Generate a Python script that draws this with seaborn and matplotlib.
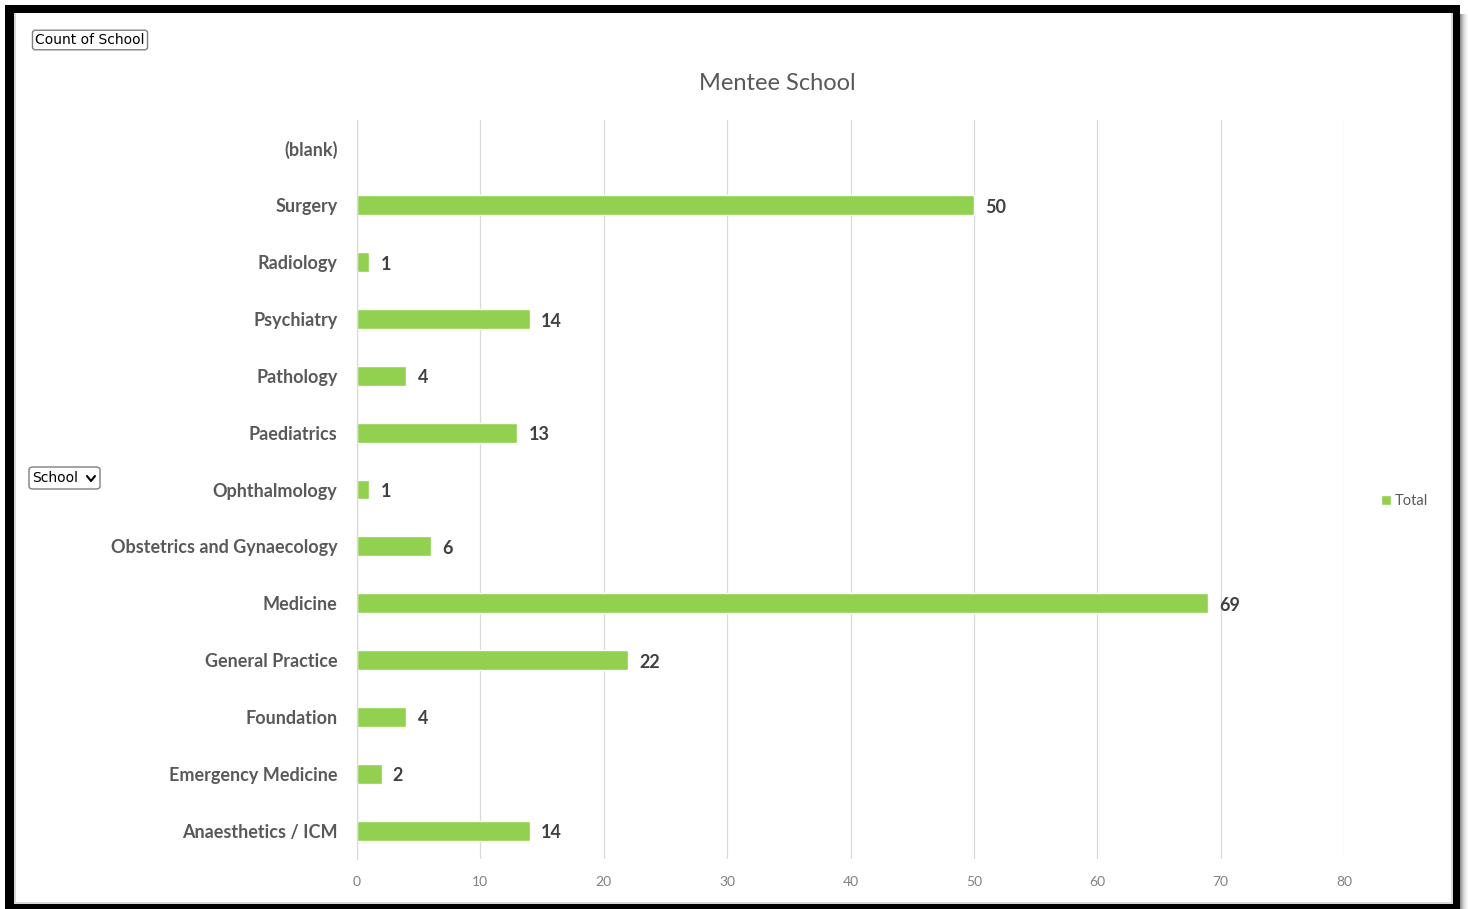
import numpy as np
import pandas as pd
import matplotlib
matplotlib.use("Agg")
import matplotlib.pyplot as plt
from matplotlib.patches import Rectangle, FancyBboxPatch
from matplotlib.lines import Line2D
import seaborn as sns

# Pivot data: count of mentees per school
schools = [
    "(blank)", "Surgery", "Radiology", "Psychiatry", "Pathology",
    "Paediatrics", "Ophthalmology", "Obstetrics and Gynaecology",
    "Medicine", "General Practice", "Foundation", "Emergency Medicine",
    "Anaesthetics / ICM",
]
counts = [np.nan, 50, 1, 14, 4, 13, 1, 6, 69, 22, 4, 2, 14]
x_ticks = [0, 10, 20, 30, 40, 50, 60, 70, 80]
series_name = "Total"
title = "Mentee School"

BAR = "#92D050"
GRID = "#D9D9D9"
LABEL = "#595959"
VALUE = "#404040"
TICK = "#808080"

sns.set_theme(style="white")
plt.rcParams["font.family"] = ["Lato", "DejaVu Sans"]

W, H = 1468, 909
fig = plt.figure(figsize=(W / 100, H / 100), dpi=100)
fig.patch.set_facecolor("white")

def fx(px):
    return px / W

def fy(py):
    return 1 - py / H

ax = fig.add_axes([fx(357), fy(859), fx(1344) - fx(357), fy(120) - fy(859)])

df = pd.DataFrame({"School": schools, "Count": counts})
sns.barplot(data=df, x="Count", y="School", order=schools, orient="h",
            color=BAR, width=0.35, saturation=1, label=series_name, ax=ax)

ax.set_xlim(x_ticks[0], x_ticks[-1])
ax.set_xticks(x_ticks)
ax.set_xlabel("")
ax.set_ylabel("")
ax.xaxis.grid(True, color=GRID, linewidth=0.9)
ax.yaxis.grid(False)
ax.set_axisbelow(True)
for side in ["top", "right", "bottom"]:
    ax.spines[side].set_visible(False)
ax.spines["left"].set_color(GRID)
ax.spines["left"].set_linewidth(0.9)

ax.tick_params(axis="y", length=0, pad=14, labelsize=13, labelcolor=LABEL)
ax.tick_params(axis="x", length=0, pad=12, labelsize=10, labelcolor=TICK)
for t in ax.get_yticklabels():
    t.set_fontweight("bold")

# Data labels at the end of each bar
for cont in ax.containers:
    labels = []
    for p in cont.patches:
        w = p.get_width()
        labels.append("" if (w is None or np.isnan(w) or w == 0) else f"{w:g}")
    texts = ax.bar_label(cont, labels=labels, padding=8, fontsize=13,
                         fontweight="bold", color=VALUE)
    for t in texts:
        t.xyann = (t.xyann[0], -1.5)

fig.text(fx(777), fy(83), title, ha="center", va="center",
         fontsize=17, color=LABEL)

# Legend on the right side
handles, lbls = ax.get_legend_handles_labels()
fig.legend(handles, lbls, loc="center left",
           bbox_to_anchor=(fx(1368), fy(501)), frameon=False,
           handlelength=0.65, handleheight=0.65, handletextpad=0.3,
           fontsize=10.5, labelcolor=LABEL)
if ax.get_legend() is not None:
    ax.get_legend().remove()

# Pivot field buttons
fig.text(fx(90), fy(40), "Count of School", ha="center", va="center",
         fontsize=10, color="black", family=["DejaVu Sans"],
         bbox=dict(boxstyle="round,pad=0.2,rounding_size=0.2",
                   fc="white", ec="#7F7F7F", lw=1))
box = FancyBboxPatch((fx(29), fy(489)), fx(100) - fx(29), fy(467) - fy(489),
                     boxstyle="round,pad=0,rounding_size=0.003",
                     transform=fig.transFigure, fc="white", ec="#7F7F7F", lw=1)
fig.patches.append(box)
fig.text(fx(32), fy(478), "School", ha="left", va="center",
         fontsize=10, color="black", family=["DejaVu Sans"])
fig.lines.append(Line2D([fx(87), fx(91), fx(95)], [fy(476), fy(481), fy(476)],
                        transform=fig.transFigure, color="black", lw=1.5))

# Window frame: black border with a soft shadow on the right
def rect(x0, y0, x1, y1, color):
    fig.patches.append(Rectangle((fx(x0), fy(y1)), fx(x1) - fx(x0),
                                 fy(y0) - fy(y1), transform=fig.transFigure,
                                 fc=color, ec="none", zorder=10))

for i, c in enumerate(["#909090", "#a8a8a8", "#bcbcbc", "#cfcfcf",
                       "#dedede", "#e9e9e9", "#f2f2f2", "#f8f8f8"]):
    rect(1460 + i, 14, 1461 + i, 909, c)
rect(5, 5, 1460, 13, "black")
rect(5, 5, 14, 909, "black")
rect(1453, 5, 1460, 909, "black")
rect(5, 904, 1460, 909, "black")
rect(14, 13, 16, 904, "#D8D8D8")
rect(1451, 13, 1453, 904, "#D8D8D8")
rect(14, 902, 1453, 904, "#D8D8D8")

fig.savefig("out.png", dpi=100, facecolor="white")
